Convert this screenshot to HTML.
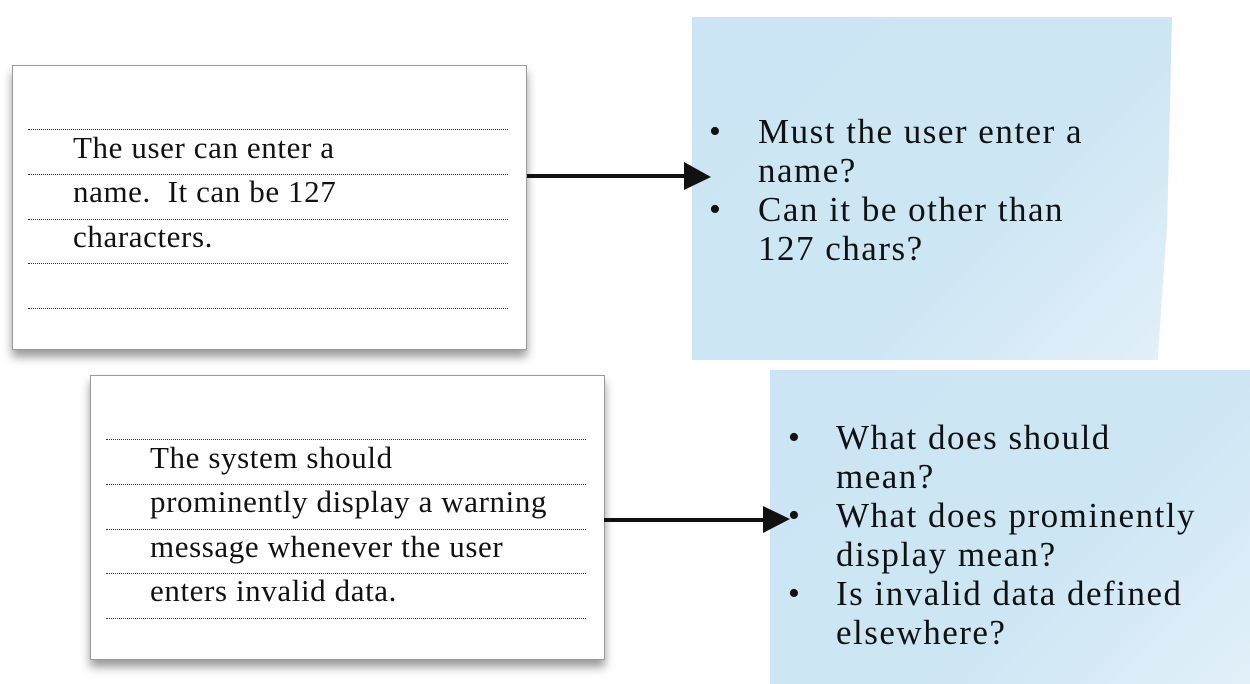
<!DOCTYPE html>
<html><head><style>
body{margin:0;width:1250px;height:684px;background:#fff;position:relative;overflow:hidden;font-family:"Liberation Serif",serif;}
.card{position:absolute;background:#fff;border:1px solid #9a9a9a;box-shadow:0 7px 9px rgba(0,0,0,0.4);}
.dl{position:absolute;height:0;border-top:1px dotted #333;}
.t{position:absolute;font-size:31px;color:#111;white-space:nowrap;letter-spacing:0.6px;line-height:32px;}
.note{position:absolute;background:linear-gradient(135deg,#cbe5f4 0%,#cde6f4 60%,#e2f0f9 100%);}
.q{position:absolute;font-size:35px;color:#111;white-space:nowrap;line-height:39px;letter-spacing:1.5px;}
.b{position:absolute;font-size:34px;color:#111;line-height:39px;}
</style></head><body>
<div class="card" style="left:12px;top:65px;width:513px;height:283px"></div>
<div class="dl" style="left:28px;top:129px;width:480px"></div>
<div class="dl" style="left:28px;top:174px;width:480px"></div>
<div class="dl" style="left:28px;top:219px;width:480px"></div>
<div class="dl" style="left:28px;top:263px;width:480px"></div>
<div class="dl" style="left:28px;top:308px;width:480px"></div>
<div class="t" style="left:73px;top:132px">The user can enter a</div>
<div class="t" style="left:73px;top:176px">name.&nbsp; It can be 127</div>
<div class="t" style="left:73px;top:221px">characters.</div>

<div class="card" style="left:90px;top:375px;width:513px;height:283px"></div>
<div class="dl" style="left:106px;top:439px;width:480px"></div>
<div class="dl" style="left:106px;top:484px;width:480px"></div>
<div class="dl" style="left:106px;top:529px;width:480px"></div>
<div class="dl" style="left:106px;top:573px;width:480px"></div>
<div class="dl" style="left:106px;top:618px;width:480px"></div>
<div class="t" style="left:150px;top:442px">The system should</div>
<div class="t" style="left:150px;top:486px">prominently display a warning</div>
<div class="t" style="left:150px;top:531px">message whenever the user</div>
<div class="t" style="left:150px;top:575px">enters invalid data.</div>

<div class="note" style="left:692px;top:17px;width:480px;height:343px;clip-path:polygon(0 0,100% 0,99% 60%,97% 100%,0 100%);filter:drop-shadow(4px 8px 10px rgba(0,0,0,0.3))"></div>
<div class="note" style="left:770px;top:370px;width:480px;height:314px"></div>

<div class="b" style="left:709px;top:112px">•</div>
<div class="b" style="left:709px;top:190px">•</div>
<div class="q" style="left:758px;top:112px">Must the user enter a<br>name?<br>Can it be other than<br>127 chars?</div>

<div class="b" style="left:788px;top:418px">•</div>
<div class="b" style="left:788px;top:496px">•</div>
<div class="b" style="left:788px;top:574px">•</div>
<div class="q" style="left:836px;top:418px">What does should<br>mean?<br>What does prominently<br>display mean?<br>Is invalid data defined<br>elsewhere?</div>

<svg style="position:absolute;left:0;top:0" width="1250" height="684">
<line x1="527" y1="176" x2="688" y2="176" stroke="#111" stroke-width="4"/>
<polygon points="684,162 711,177 684,190" fill="#111"/>
<line x1="604" y1="520" x2="768" y2="520" stroke="#111" stroke-width="4"/>
<polygon points="763,506 790,519 763,533" fill="#111"/>
</svg>
</body></html>
